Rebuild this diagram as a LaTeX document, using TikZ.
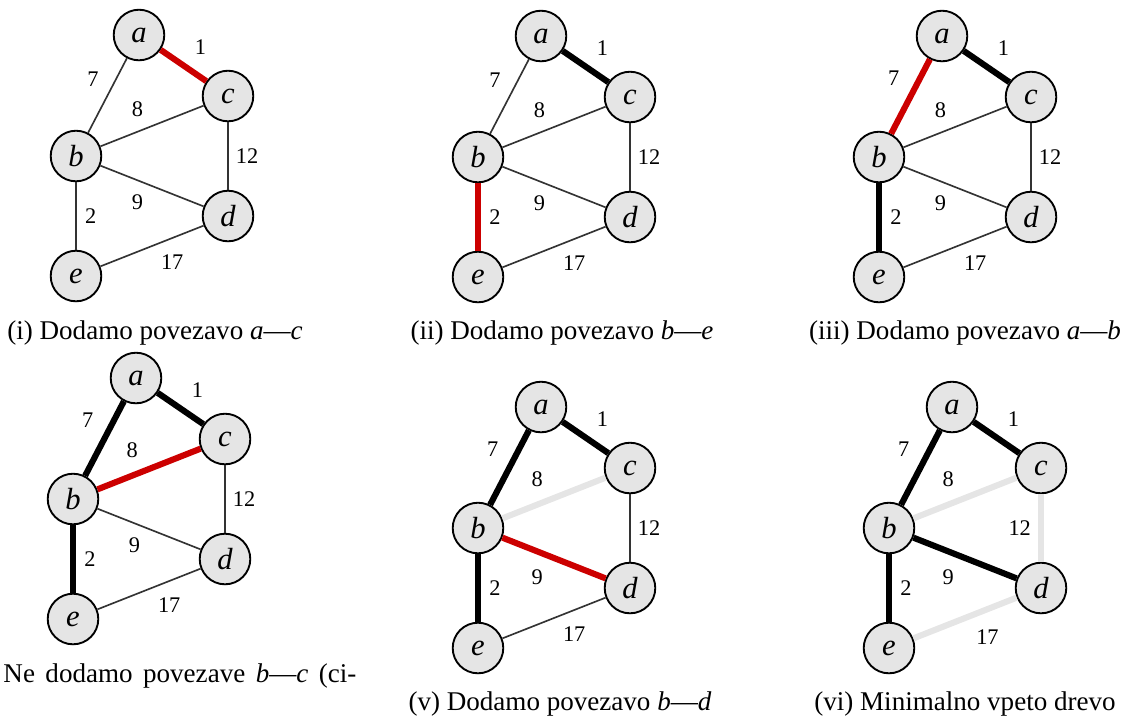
\documentclass[tikz,border=0pt]{standalone}
\usepackage{fontspec}
\setmainfont{Liberation Serif}
\usetikzlibrary{calc}

\definecolor{izbrana}{RGB}{204,0,0}

\tikzset{
  vozl/.style={circle, draw, line width=0.8pt, fill=gray!20, minimum size=21.5pt, inner sep=0pt, font=\fontsize{13}{15}\selectfont\itshape},
  tanka/.style={line width=0.7pt, black!80},
  debela/.style={line width=2.6pt, black},
  rdeca/.style={line width=2.6pt, izbrana},
  siva/.style={line width=2.6pt, gray!20},
  utez/.style={font=\fontsize{9.5}{11}\selectfont, text=black, inner sep=2pt},
  stran12/.style={right=1pt},
  napis/.style={anchor=base, inner sep=0pt, font=\fontsize{11.5}{13}\selectfont},
}

% one graph: #1 name, #2 shift, then edges ab, ac, bc, bd, be, cd, de
\newcommand{\graf}[9]{%
  \begin{scope}[shift={#2}]
    \node[vozl] (a#1) at (139,35) {a};
    \node[vozl] (c#1) at (228,96) {c};
    \node[vozl] (b#1) at (76,156) {b};
    \node[vozl] (d#1) at (228,216) {d};
    \node[vozl] (e#1) at (76,276) {e};
    % edges with weights
    \draw[#3] (a#1) -- node[utez, above left=1.5pt] {7} (b#1);
    \draw[#4] (a#1) -- node[utez, above right=1.5pt] {1} (c#1);
    \draw[#5] (b#1) -- node[utez, above left=1.5pt] {8} (c#1);
    \draw[#6] (b#1) -- node[utez, below left=1.5pt] {9} (d#1);
    \draw[#7] (b#1) -- node[utez, right=1.5pt] {2} (e#1);
    \draw[#8] (c#1) -- node[utez, stran12] {12} (d#1);
    \draw[#9] (e#1) -- node[utez, below right=1.5pt] {17} (d#1);
  \end{scope}}

\begin{document}
\begin{tikzpicture}[x=0.425pt, y=-0.425pt]
  \useasboundingbox (0,0) rectangle (1127,716);

  % top row
  \graf{1}{(0,0)}{tanka}{rdeca}{tanka}{tanka}{tanka}{tanka}{tanka}
  \graf{2}{(402,1)}{tanka}{debela}{tanka}{tanka}{rdeca}{tanka}{tanka}
  \graf{3}{(803,1)}{rdeca}{debela}{tanka}{tanka}{debela}{tanka}{tanka}

  % bottom row
  \graf{4}{(-3,343)}{debela}{debela}{rdeca}{tanka}{debela}{tanka}{tanka}
  \graf{5}{(402,372)}{debela}{debela}{siva}{rdeca}{debela}{tanka}{tanka}
  \graf{6}{(813,372)}{debela}{debela}{siva}{debela}{debela}{siva, stran12/.style={left=1pt}}{siva}

  % captions
  \node[napis] (nap1) at (155,339) {(i) Dodamo povezavo \textit{a}—\textit{c}};
  \node[napis] (nap2) at (562,339) {(ii) Dodamo povezavo \textit{b}—\textit{e}};
  \node[napis] (nap3) at (965,339) {(iii) Dodamo povezavo \textit{a}—\textit{b}};
  \node[napis, anchor=base west] (nap4) at (3,682) {\makebox[150pt][s]{Ne dodamo povezave \textit{b}—\textit{c} (ci-}};
  \node[napis] (nap5) at (560,710) {(v) Dodamo povezavo \textit{b}—\textit{d}};
  \node[napis] (nap6) at (965,710) {(vi) Minimalno vpeto drevo};
\end{tikzpicture}
\end{document}
